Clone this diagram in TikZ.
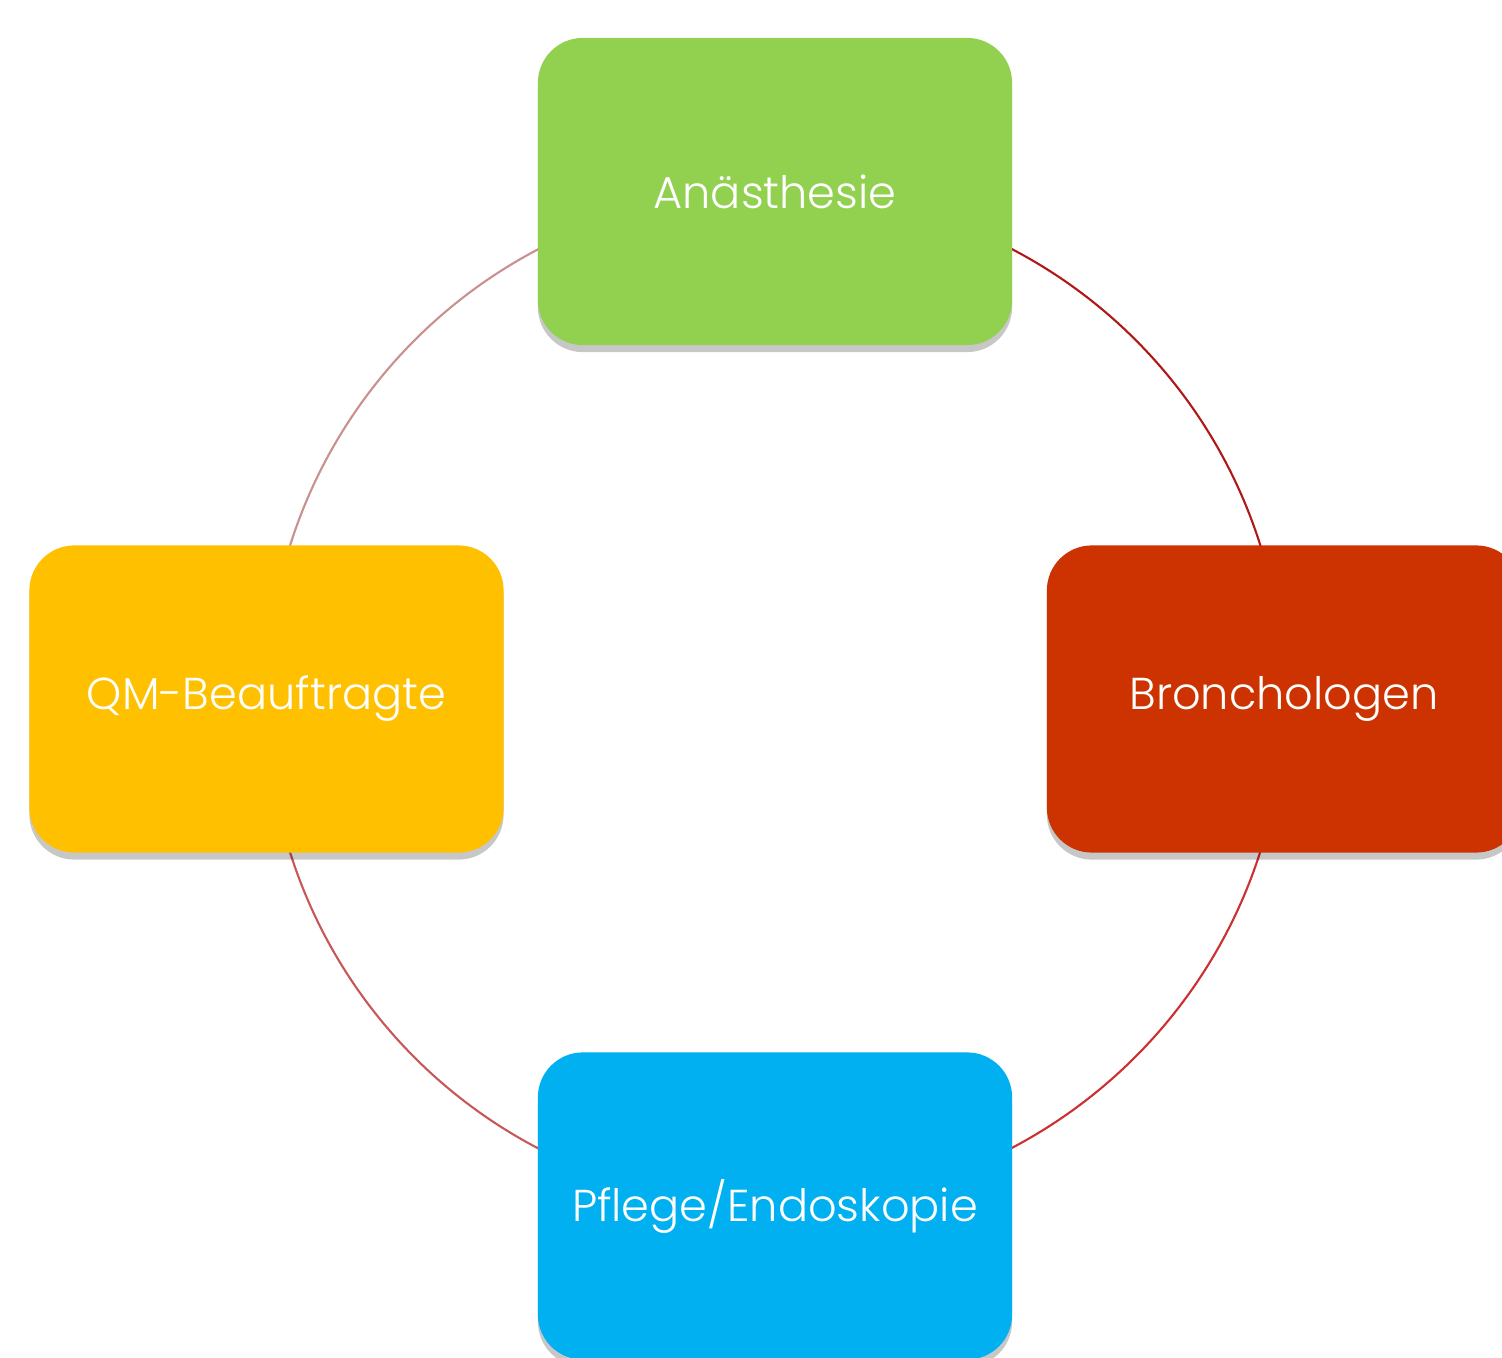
\documentclass[tikz,border=0pt]{standalone}
\usepackage{fontspec}
\setmainfont{Poppins Light}
\usetikzlibrary{shadows,backgrounds}
\definecolor{gruen}{HTML}{92D050}
\definecolor{gelb}{HTML}{FFC000}
\definecolor{rot}{HTML}{CC3300}
\definecolor{blau}{HTML}{00B0F0}
\tikzset{
  unitbox/.style={rounded corners=0.45cm, minimum width=4.74cm, minimum height=3.07cm,
    inner sep=0pt, text=white, font=\fontsize{12.7}{15}\selectfont,
    drop shadow={shadow xshift=0pt, shadow yshift=-2pt, opacity=0.22, fill=black}},
  ring/.style={line width=0.6pt}
}
\begin{document}
\begin{tikzpicture}[x=0.01cm, y=-0.01cm]
\clip (0,0) rectangle (1502,1358);
\node[unitbox, fill=gruen] (anaesthesie) at (775,191.5) {\raisebox{-1pt}{Anästhesie}}; %top
\node[unitbox, fill=rot] (broncho) at (1284,699) {\raisebox{-1pt}{Bronchologen}}; %right
\node[unitbox, fill=blau] (pflege) at (775,1206) {\raisebox{-1pt}{Pflege/Endoskopie}}; %bottom
\node[unitbox, fill=gelb] (qm) at (266.5,699) {\raisebox{-1pt}{QM-Beauftragte}}; %left

\begin{scope}[on background layer]
\draw[ring, color={rgb,255:red,201;green,144;blue,144}] (anaesthesie.center) to[bend right=45] (qm.center);
\draw[ring, color={rgb,255:red,200;green,88;blue,88}] (qm.center) to[bend right=45] (pflege.center);
\draw[ring, color={rgb,255:red,204;green,48;blue,48}] (pflege.center) to[bend right=45] (broncho.center);
\draw[ring, color={rgb,255:red,176;green,24;blue,24}] (broncho.center) to[bend right=45] (anaesthesie.center);
\end{scope}
\end{tikzpicture}
\end{document}
